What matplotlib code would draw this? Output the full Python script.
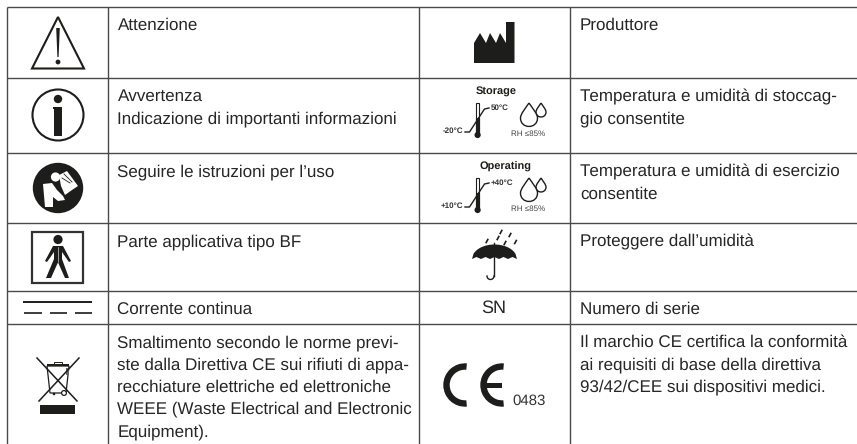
import numpy as np
import matplotlib
matplotlib.use('Agg')
import matplotlib.pyplot as plt
from matplotlib.patches import Circle, Polygon, Rectangle, Wedge, PathPatch
from matplotlib.path import Path

plt.rcParams['font.family'] = ['Liberation Sans', 'DejaVu Sans']
plt.rcParams['text.hinting'] = 'no_hinting'
plt.rcParams['text.hinting_factor'] = 1

# table grid, in pixels
col_x = [7.5, 108.5, 419, 570]
row_y = [7, 78, 153, 223, 291, 324]

left_labels = [
    "Attenzione",
    "Avvertenza\nIndicazione di importanti informazioni",
    "Seguire le istruzioni per l’uso",
    "Parte applicativa tipo BF",
    "Corrente continua",
    "Smaltimento secondo le norme previ-\nste dalla Direttiva CE sui rifiuti di appa-\n"
    "recchiature elettriche ed elettroniche\nWEEE (Waste Electrical and Electronic\nEquipment).",
]
right_labels = [
    "Produttore",
    "Temperatura e umidità di stoccag-\ngio consentite",
    "Temperatura e umidità di esercizio\nconsentite",
    "Proteggere dall’umidità",
    "Numero di serie",
    "Il marchio CE certifica la conformità\nai requisiti di base della direttiva\n93/42/CEE sui dispositivi medici.",
]
label_baselines = [30, 101, 176.5, 246, 314, 347]

INK = '#1d1d1b'
TEXT = '#262626'
LINE = '#4a4a4a'

fig = plt.figure(figsize=(8.57, 4.44), dpi=100)
ax = fig.add_axes([0, 0, 1, 1])
ax.set_xlim(0, 857)
ax.set_ylim(444, 0)
ax.axis('off')


def draw_grid():
    for y in row_y:
        ax.plot([col_x[0] - 0.5, 857], [y, y], color=LINE, lw=1.0, solid_capstyle='butt')
    for x in col_x:
        ax.plot([x, x], [row_y[0], 444], color=LINE, lw=1.0, solid_capstyle='butt')


def draw_labels(labels, x):
    for label, base in zip(labels, label_baselines):
        for i, line in enumerate(label.split('\n')):
            ax.text(x, base + i * 22.3, line, fontsize=12.2, color=TEXT, va='baseline', ha='left')


def warning_icon():
    ax.add_patch(Polygon([(58, 17), (84, 68.5), (32, 68.5)], closed=True, fc='white', ec=INK, lw=1.5))
    ax.add_patch(Polygon([(56.2, 28), (59.8, 28), (58.6, 57), (57.4, 57)], closed=True, fc=INK, ec='none'))
    ax.add_patch(Circle((58, 62), 2.4, fc=INK, ec='none'))


def info_icon():
    ax.add_patch(Circle((58, 115), 25.5, fc='white', ec=INK, lw=1.5))
    ax.add_patch(Circle((58, 99), 4.2, fc=INK, ec='none'))
    ax.add_patch(Polygon([(53, 107), (62, 107), (62, 136.5), (54, 136.5), (54, 109.5), (53, 109.5)], closed=True, fc=INK, ec='none'))


def manual_icon():
    ax.add_patch(Circle((58, 188), 25.2, fc=INK, ec='none'))
    ax.add_patch(Circle((55.5, 177), 4.6, fc='white', ec='none'))
    ax.add_patch(Polygon([(43, 184), (52, 183), (57, 190), (63, 196), (65, 200), (58, 201),
                          (53, 197), (53, 207), (45, 207)], closed=True, fc='white', ec='none'))
    ax.add_patch(Polygon([(59, 175), (67, 171), (78, 186), (72, 190), (65, 195), (61, 186)], closed=True, fc='white', ec='none'))
    ax.plot([62, 70], [178, 183], color=INK, lw=0.6)
    ax.plot([64, 72], [174, 182], color=INK, lw=0.6)


def bf_icon():
    ax.add_patch(Rectangle((32.5, 231.5), 51, 51.5, fc='white', ec='#333333', lw=1.6))
    ax.add_patch(Circle((58, 239.5), 4.6, fc=INK, ec='none'))
    ax.add_patch(Polygon([(53, 246), (63, 246), (71, 261), (69, 262), (62, 252), (62, 259),
                          (69, 278), (65, 278), (58.3, 263), (57.7, 263), (51, 278), (46, 278),
                          (54, 259), (54, 252), (47, 262), (45, 261)], closed=True, fc=INK, ec='none'))
    ax.plot([58, 58], [247, 262], color='white', lw=0.4)


def dc_icon():
    ax.plot([23.5, 92], [302, 302], color=INK, lw=1.4, solid_capstyle='butt')
    for x0, x1 in [(24, 42), (50, 67), (75, 92)]:
        ax.plot([x0, x1], [312.5, 312.5], color=INK, lw=1.2, solid_capstyle='butt')


def weee_icon():
    ax.add_patch(Polygon([(47, 366), (69, 366), (66, 393), (50, 393)], closed=True, fc='white', ec=INK, lw=0.9))
    ax.add_patch(Rectangle((47, 364), 22, 2.2, fc=INK, ec='none'))
    ax.add_patch(Rectangle((54, 362), 8, 2, fc='white', ec=INK, lw=0.7))
    ax.plot([37, 77], [358, 401], color=INK, lw=1.1)
    ax.plot([79, 39], [358, 401], color=INK, lw=1.1)
    ax.add_patch(Rectangle((66, 368), 3, 7, fc='#666666', ec='none'))
    ax.add_patch(Circle((64, 393), 2.4, fc='white', ec=INK, lw=0.9))
    ax.add_patch(Circle((54, 394), 1.3, fc=INK, ec='none'))
    ax.add_patch(Rectangle((40, 405), 35, 9, fc=INK, ec='none'))


def factory_icon():
    ax.add_patch(Polygon([(474, 63), (474, 43), (480, 33), (486, 43), (490, 33), (496, 43), (500, 33),
                          (506, 43), (506, 22), (514.5, 22), (514.5, 63)], closed=True, fc=INK, ec='none'))


def drop(cx, tip_y, cy, r):
    # drop outline: circle with a point on top
    s = 0.75
    path = Path([(cx, tip_y), (cx + r * s * 0.5, cy - r * 1.2), (cx + r, cy - r * 0.5), (cx + r, cy),
                 (cx + r, cy + r * 1.33), (cx - r, cy + r * 1.33), (cx - r, cy),
                 (cx - r, cy - r * 0.5), (cx - r * s * 0.5, cy - r * 1.2), (cx, tip_y)],
                [Path.MOVETO, Path.CURVE4, Path.CURVE4, Path.CURVE4, Path.CURVE4, Path.CURVE4, Path.CURVE4,
                 Path.CURVE4, Path.CURVE4, Path.CURVE4])
    ax.add_patch(PathPatch(path, fc='white', ec=INK, lw=1.0))


def climate_icon(title, title_x, hi, lo, dy):
    ax.text(title_x, 92 + dy, title, fontsize=7.9, fontweight='bold', color=INK, ha='center', va='center')
    # thermometer
    ax.add_patch(Rectangle((475.8, 103 + dy), 3.6, 32, fc='white', ec=INK, lw=0.8))
    ax.add_patch(Rectangle((475.8, 118 + dy), 3.6, 16, fc=INK, ec=INK, lw=0.8))
    ax.add_patch(Circle((477.6, 135 + dy), 3.1, fc=INK, ec='none'))
    ax.plot([465, 469.5, 484.5, 489], np.array([132, 132, 109, 108]) + dy, color=INK, lw=1.0)
    ax.text(491, 108 + dy, hi, fontsize=5.8, fontweight='bold', color='#333333', ha='left', va='center')
    ax.text(463.5, 130.5 + dy, lo, fontsize=5.8, fontweight='bold', color='#333333', ha='right', va='center')
    ax.text(528, 134 + dy, "RH ≤85%", fontsize=5.7, color='#444444', ha='center', va='center')
    drop(541, 103 + dy, 112 + dy, 5)
    drop(529, 103 + dy, 118 + dy, 8.5)


def umbrella_icon():
    xs = np.array([472, 517])
    arc = [(472 + 45 * t, 259 - 14.5 * np.sqrt(1 - (2 * t - 1) ** 2)) for t in np.linspace(0, 1, 30)]
    scallops = []
    for i in range(5, 0, -1):
        x0 = xs[0] + (i - 1) * 9
        scallops.append((x0 + 4.5, 257))
        scallops.append((x0, 259))
    ax.add_patch(Polygon(arc + scallops, closed=True, fc=INK, ec='none'))
    ax.plot([494, 494], [243, 276], color=INK, lw=1.0)
    t = np.linspace(0, np.pi, 20)
    ax.plot(490.5 + 3.5 * np.cos(t), 276 + 3.5 * np.sin(t), color=INK, lw=1.0)
    for x, y in [(487, 241), (498, 238), (510, 235), (501, 232), (505, 243), (515.5, 242)]:
        ax.plot([x - 0.8, x + 0.8], [y + 1.5, y - 1.5], color=INK, lw=1.2)


def ce_icon():
    ax.add_patch(Wedge((465, 385), 21.7, 85, 275, width=6.4, fc=INK, ec='none'))
    ax.add_patch(Wedge((502, 385), 21.7, 85, 275, width=6.4, fc=INK, ec='none'))
    ax.add_patch(Rectangle((483, 382.5), 19, 5, fc=INK, ec='none'))
    ax.text(529, 401, "0483", fontsize=11, color='#333333', ha='center', va='center')


draw_grid()
draw_labels(left_labels, 117.5)
draw_labels(right_labels, 580)
warning_icon()
info_icon()
manual_icon()
bf_icon()
dc_icon()
weee_icon()
factory_icon()
climate_icon("Storage", 495.7, "50°C", "-20°C", 0)
climate_icon("Operating", 506, "+40°C", "+10°C", 75)
umbrella_icon()
ax.text(493.7, 308, "SN", fontsize=13, color=TEXT, ha='center', va='center')
ce_icon()

fig.savefig('out.png', dpi=100)
